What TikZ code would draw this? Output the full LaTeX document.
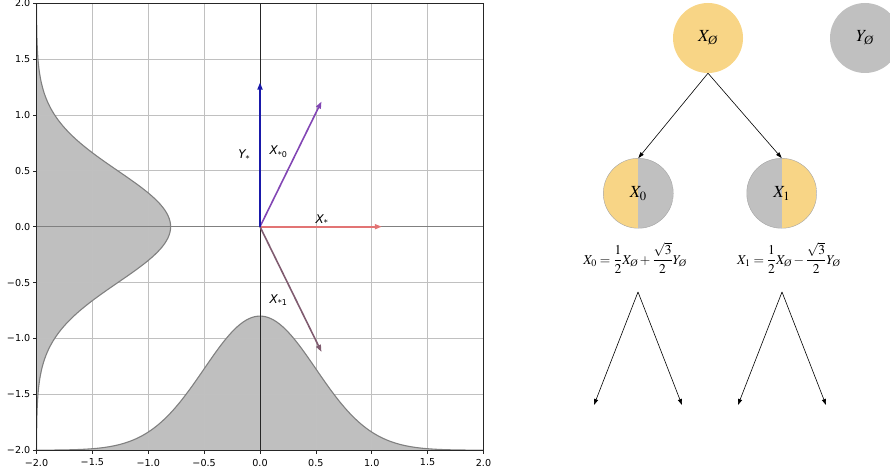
\documentclass[tikz,border=0pt]{standalone}
\usepackage{amsmath}
\usepackage{mathptmx}
\usepackage{fontspec}
\newfontfamily\dejavu{DejaVu Sans}
\newfontfamily\tms{Liberation Serif}
\usetikzlibrary{arrows.meta}
\definecolor{ylw}{RGB}{248,213,134}
\definecolor{gry}{RGB}{192,192,192}
\definecolor{fillg}{RGB}{191,191,191}
\definecolor{edgeg}{RGB}{128,128,128}
\definecolor{gridc}{RGB}{192,192,192}
\definecolor{cY}{RGB}{25,25,170}
\definecolor{cXa}{RGB}{130,70,180}
\definecolor{cX}{RGB}{226,116,116}
\definecolor{cXb}{RGB}{128,92,112}
\newcommand\vl[2]{{\dejavu\fontsize{12}{13}\selectfont\itshape #1\raisebox{-2.5pt}{\upshape\fontsize{8}{9}\selectfont #2}}}
\newcommand\es{\text{\tms\itshape Ø}}
\begin{document}
\begin{tikzpicture}[x=1pt,y=-1pt,
  tick/.style={font=\dejavu\fontsize{9.6}{10}\selectfont, inner sep=0pt},
  vec/.style={line width=1.6pt, -{Triangle[length=7pt,width=5pt]}},
  lbl/.style={inner sep=0pt},
  tarrow/.style={line width=0.6pt, -{Triangle[length=6pt,width=4pt]}},
  full/.style={circle, minimum size=70pt, inner sep=0pt, font=\fontsize{17}{20}\selectfont},
  form/.style={inner sep=0pt, font=\fontsize{13.5}{16}\selectfont},
]
\clip (0,0) rectangle (890,473);
\path[use as bounding box] (0,0) rectangle (890,473);
\begin{scope}[shift={(260,226.7)}, x=111.75pt, y=111.75pt]
  % gaussian fills
  \fill[fillg] (-2,-2) -- plot[domain=-2:2,samples=161,smooth] (\x,{-2+1.2*exp(-2*\x*\x)}) -- (2,-2) -- cycle;
  \fill[fillg] (-2,-2) -- plot[domain=-2:2,samples=161,smooth] ({-2+1.2*exp(-2*\x*\x)},\x) -- (-2,2) -- cycle;
  % grid
  \foreach \v in {-1.5,-1,-0.5,0.5,1,1.5}{
    \draw[gridc, line width=0.7pt] (\v,-2) -- (\v,2);
    \draw[gridc, line width=0.7pt] (-2,\v) -- (2,\v);
  }
  % gaussian edges
  \draw[edgeg, line width=1.1pt] plot[domain=-2:2,samples=161,smooth] (\x,{-2+1.2*exp(-2*\x*\x)});
  \draw[edgeg, line width=1.1pt] plot[domain=-2:2,samples=161,smooth] ({-2+1.2*exp(-2*\x*\x)},\x);
  % axes lines
  \draw[black!50, line width=1.2pt] (-2,0) -- (2,0);
  \draw[black!85, line width=0.6pt] (0,-2) -- (0,2);
  % frame
  \draw[black!85, line width=0.8pt] (-2,-2) rectangle (2,2);
  % ticks and labels
  \foreach \v/\t in {-2/−2.0,-1.5/−1.5,-1/−1.0,-0.5/−0.5,0/0.0,0.5/0.5,1/1.0,1.5/1.5,2/2.0}{
    \draw[black!85, line width=0.6pt] (\v,-2) -- ++(0,-3.5pt);
    \draw[black!85, line width=0.6pt] (-2,\v) -- ++(-3.5pt,0);
    \node[tick] at ([yshift=-12.3pt]\v,-2) {\t};
    \node[tick, anchor=east] at ([xshift=-6pt]-2,\v) {\t};
  }
  % vectors
  \coordinate (O) at (0,0);
  \coordinate (tX) at (1.09,0);
  \coordinate (tXa) at (0.55,1.12);
  \coordinate (tXb) at (0.55,-1.12);
  \coordinate (tY) at (0,1.29);
  \draw[vec, cX] (O) -- (tX);
  \draw[vec, cXa] (O) -- (tXa);
  \draw[vec, cXb] (O) -- (tXb);
  \draw[vec, cY] (O) -- (tY);
  \node[lbl] (lY) at (-0.143,0.634) {\vl{Y}{*}};
  \node[lbl] (lXa) at (0.164,0.671) {\vl{X}{*0}};
  \node[lbl] (lX) at (0.552,0.06) {\vl{X}{*}};
  \node[lbl] (lXb) at (0.164,-0.656) {\vl{X}{*1}};
\end{scope}
% tree
\node[full, fill=ylw] (Xe) at (708,38) {$X_{\es}$};
\node[full, fill=gry] (Ye) at (865,38) {$Y_{\es}$};
\node[full, draw=gry!85!black, line width=0.4pt, path picture={
    \fill[ylw] (path picture bounding box.north west) rectangle (path picture bounding box.south);
    \fill[gry] (path picture bounding box.north) rectangle (path picture bounding box.south east);}]
  (X0) at (638.3,193.3) {$X_0$};
\node[full, draw=gry!85!black, line width=0.4pt, path picture={
    \fill[gry] (path picture bounding box.north west) rectangle (path picture bounding box.south);
    \fill[ylw] (path picture bounding box.north) rectangle (path picture bounding box.south east);}]
  (X1) at (781.7,193.3) {$X_1$};
\node[form] (f0) at (635,258) {$X_0=\dfrac{1}{2}X_{\es}+\dfrac{\sqrt{3}}{2}Y_{\es}$};
\node[form] (f1) at (788.7,258) {$X_1=\dfrac{1}{2}X_{\es}-\dfrac{\sqrt{3}}{2}Y_{\es}$};
\draw[tarrow] (Xe.south) -- (X0.north);
\draw[tarrow] (Xe.south) -- (X1.north);
\coordinate (a0) at (638,292);
\coordinate (a00) at (594,405);
\coordinate (a01) at (682,405);
\coordinate (a1) at (782,292);
\coordinate (a10) at (738,405);
\coordinate (a11) at (826,405);
\draw[tarrow] (a0) -- (a00);
\draw[tarrow] (a0) -- (a01);
\draw[tarrow] (a1) -- (a10);
\draw[tarrow] (a1) -- (a11);
\end{tikzpicture}
\end{document}
